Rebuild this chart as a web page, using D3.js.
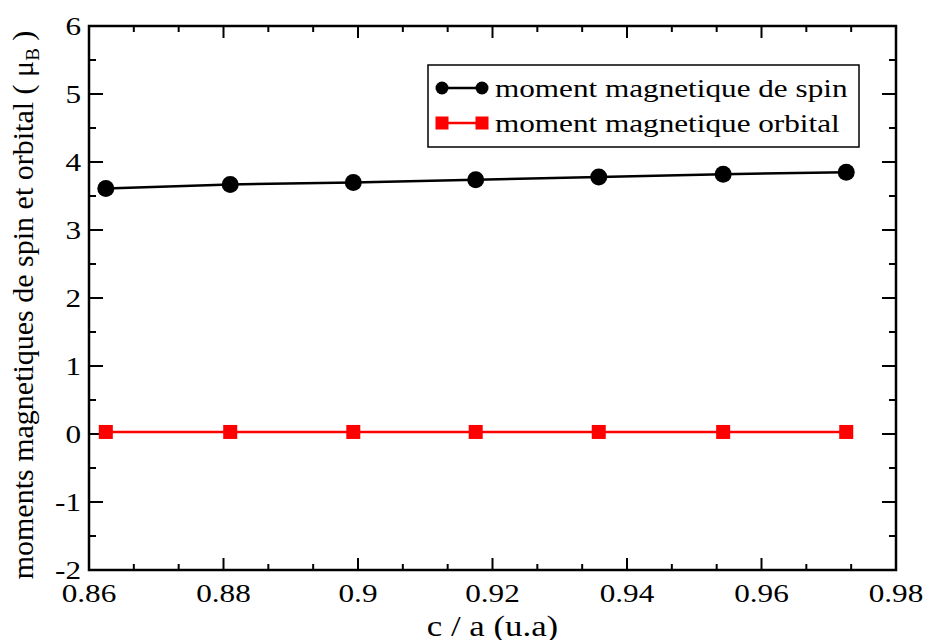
<!DOCTYPE html>
<meta charset="utf-8">
<style>
body { margin: 0; background: #fff; }
text { font-family: "Liberation Serif", "Times New Roman", serif; fill: #000; }
</style>
<svg width="930" height="640"></svg>
<script src="https://cdn.jsdelivr.net/npm/d3@7/dist/d3.min.js"></script>
<script>

// c/a ratio values
var ratio = [0.8625, 0.881, 0.8993, 0.9175, 0.9358, 0.9543, 0.9726];
// spin moment (muB)
var spin = [3.61, 3.67, 3.70, 3.74, 3.78, 3.82, 3.85];
// orbital moment (muB)
var orbital = [0.03, 0.03, 0.03, 0.03, 0.03, 0.03, 0.03];

var xTicks = [0.86, 0.88, 0.9, 0.92, 0.94, 0.96, 0.98];
var yTicks = [-2, -1, 0, 1, 2, 3, 4, 5, 6];

var svg = d3.select("svg");
var pLeft = 89, pRight = 896, pTop = 26, pBottom = 570;
var sx = 1.2; // picture is stretched horizontally

var x = d3.scaleLinear().domain([0.86, 0.98]).range([pLeft, pRight]);
var y = d3.scaleLinear().domain([-2, 6]).range([pBottom, pTop]);

// minor ticks
var xMinor = d3.range(0, 19).map(function(i) { return 0.86 + i * 0.02 / 3; })
  .filter(function(v, i) { return i % 3 != 0; });
var yMinor = d3.range(-1.5, 6, 1);

var ax = svg.append("g").attr("stroke", "#000").attr("stroke-width", 2);

// major and minor ticks on all four sides, pointing in
xTicks.forEach(function(v) {
  ax.append("line").attr("x1", x(v)).attr("x2", x(v)).attr("y1", pBottom).attr("y2", pBottom - 12);
  ax.append("line").attr("x1", x(v)).attr("x2", x(v)).attr("y1", pTop).attr("y2", pTop + 12);
});
xMinor.forEach(function(v) {
  ax.append("line").attr("x1", x(v)).attr("x2", x(v)).attr("y1", pBottom).attr("y2", pBottom - 6);
  ax.append("line").attr("x1", x(v)).attr("x2", x(v)).attr("y1", pTop).attr("y2", pTop + 6);
});
yTicks.forEach(function(v) {
  ax.append("line").attr("x1", pLeft).attr("x2", pLeft + 14).attr("y1", y(v)).attr("y2", y(v));
  ax.append("line").attr("x1", pRight).attr("x2", pRight - 14).attr("y1", y(v)).attr("y2", y(v));
});
yMinor.forEach(function(v) {
  ax.append("line").attr("x1", pLeft).attr("x2", pLeft + 7).attr("y1", y(v)).attr("y2", y(v));
  ax.append("line").attr("x1", pRight).attr("x2", pRight - 7).attr("y1", y(v)).attr("y2", y(v));
});

svg.append("rect").attr("x", pLeft).attr("y", pTop)
  .attr("width", pRight - pLeft).attr("height", pBottom - pTop)
  .attr("fill", "none").attr("stroke", "#000").attr("stroke-width", 2.5);

// tick labels
xTicks.forEach(function(v) {
  svg.append("text")
    .attr("transform", "translate(" + x(v) + ",602) scale(" + sx + ",1)")
    .attr("text-anchor", "middle").style("font-size", "26px")
    .text(d3.format("")(v));
});
yTicks.forEach(function(v) {
  svg.append("text")
    .attr("transform", "translate(81," + (y(v) + 9) + ") scale(" + sx + ",1)")
    .attr("text-anchor", "end").style("font-size", "26px")
    .text(v);
});

// axis titles
svg.append("text")
  .attr("transform", "translate(" + ((pLeft + pRight) / 2) + ",636) scale(" + sx + ",1)")
  .attr("text-anchor", "middle").style("font-size", "29px")
  .text("c / a (u.a)");

var yl = svg.append("text")
  .attr("transform", "translate(33,305) rotate(-90)")
  .attr("text-anchor", "middle").style("font-size", "30px");
yl.append("tspan").text("moments magnetiques de spin et orbital ( \u03bc");
yl.append("tspan").attr("dy", 6).style("font-size", "19px").text("B");
yl.append("tspan").attr("dy", -6).text(" )");

// series
var line = d3.line().x(function(d) { return x(d[0]); }).y(function(d) { return y(d[1]); });
var spinPts = d3.zip(ratio, spin), orbPts = d3.zip(ratio, orbital);

svg.append("path").datum(spinPts).attr("d", line)
  .attr("fill", "none").attr("stroke", "#000").attr("stroke-width", 2.5);
svg.selectAll(".spin").data(spinPts).enter().append("circle")
  .attr("cx", function(d) { return x(d[0]); }).attr("cy", function(d) { return y(d[1]); })
  .attr("r", 8.5).attr("fill", "#000");

svg.append("path").datum(orbPts).attr("d", line)
  .attr("fill", "none").attr("stroke", "#f00").attr("stroke-width", 2.5);
svg.selectAll(".orb").data(orbPts).enter().append("rect")
  .attr("x", function(d) { return x(d[0]) - 7; }).attr("y", function(d) { return y(d[1]) - 7; })
  .attr("width", 14).attr("height", 14).attr("fill", "#f00");

// legend
var lg = svg.append("g");
lg.append("rect").attr("x", 428).attr("y", 65).attr("width", 431).attr("height", 82)
  .attr("fill", "#fff").attr("stroke", "#000").attr("stroke-width", 1.5);
var items = [
  { label: "moment magnetique de spin", color: "#000", shape: "circle", yy: 88 },
  { label: "moment magnetique orbital", color: "#f00", shape: "rect", yy: 123 }
];
items.forEach(function(it) {
  lg.append("line").attr("x1", 442).attr("x2", 482).attr("y1", it.yy).attr("y2", it.yy)
    .attr("stroke", it.color).attr("stroke-width", 2.5);
  [442, 482].forEach(function(cx) {
    if (it.shape == "circle") lg.append("circle").attr("cx", cx).attr("cy", it.yy).attr("r", 6.5).attr("fill", it.color);
    else lg.append("rect").attr("x", cx - 6.5).attr("y", it.yy - 6.5).attr("width", 13).attr("height", 13).attr("fill", it.color);
  });
  lg.append("text").attr("transform", "translate(495," + (it.yy + 9) + ") scale(" + sx + ",1)")
    .style("font-size", "26px").text(it.label);
});
</script>
